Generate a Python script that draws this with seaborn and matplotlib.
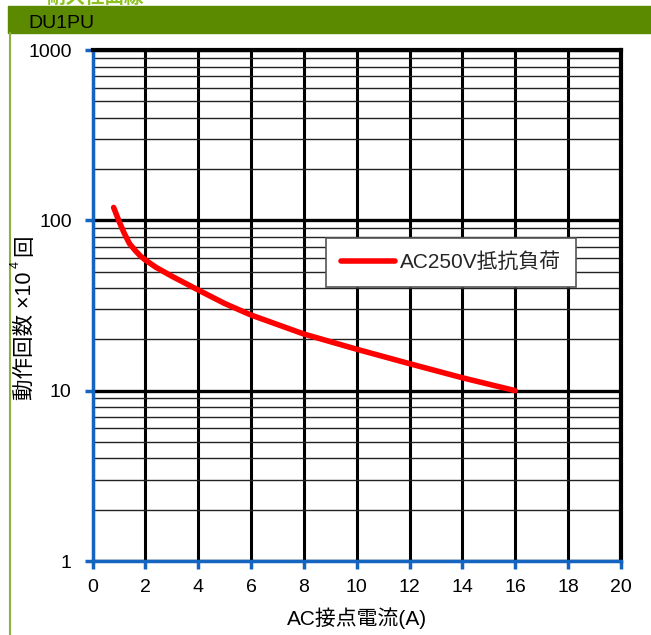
import numpy as np
import pandas as pd
import matplotlib
matplotlib.use("Agg")
import matplotlib.pyplot as plt
import seaborn as sns
from matplotlib.ticker import LogLocator, FixedLocator, NullFormatter
from matplotlib.patches import Rectangle
from matplotlib.lines import Line2D

# ---- data ----
current_a = [0.8, 1.0, 1.2, 1.4, 1.6, 1.8, 2.0, 2.4, 3.0, 4.0, 5.0, 6.0, 8.0, 10.0, 12.0, 14.0, 16.0]
operations = [119, 99, 84, 73, 67, 62, 58.5, 53, 47, 39, 32.5, 27.8, 21.5, 17.5, 14.4, 11.9, 10.0]
series_name = "AC250V抵抗負荷"
x_ticks = [0, 2, 4, 6, 8, 10, 12, 14, 16, 18, 20]
y_ticks = [1, 10, 100, 1000]
y_tick_labels = ["1", "10", "100", "1000"]
title_text = "DU1PU"
top_text = "耐久性曲線"
x_label = "AC接点電流(A)"
y_label_main = "動作回数 ×10"
y_label_exp = "4"
y_label_end = "回"

sns.set_theme(style="white")
plt.rcParams['font.family'] = ['Liberation Sans', 'Noto Sans CJK JP', 'DejaVu Sans']

W, H = 651, 635
fig = plt.figure(figsize=(W / 100, H / 100), dpi=100)

# header bar and decorations (figure coords)
fig.patches.append(Rectangle((8 / W, 1 - 33 / H), 1 - 8 / W, 27 / H,
                             transform=fig.transFigure, color="#5b8a00", zorder=0))
fig.text(28 / W, 1 - 28 / H, title_text, fontsize=14, color="black",
         va="baseline", ha="left")
fig.text(95 / W, 1 + 3 / H, top_text, fontsize=14, color="#8dc21f",
         va="center", ha="center", fontweight="bold")
fig.lines.append(Line2D([10 / W, 10 / W], [0, 1 - 33 / H], transform=fig.transFigure,
                        color="#8db040", lw=1.5))

ax = fig.add_axes([92.5 / W, 1 - 561 / H, (621 - 92.5) / W, (561 - 50) / H])

df = pd.DataFrame({"current": current_a, "ops": operations})
sns.lineplot(data=df, x="current", y="ops", ax=ax, color="#ff0000", lw=4,
             label=series_name, solid_capstyle="round", zorder=5)

ax.set_yscale("log")
ax.set_xlim(0, 20)
ax.set_ylim(1, 1000)
ax.xaxis.set_major_locator(FixedLocator(x_ticks))
ax.set_xticklabels([str(t) for t in x_ticks])
ax.yaxis.set_major_locator(FixedLocator(y_ticks))
ax.set_yticklabels(y_tick_labels)
ax.yaxis.set_minor_locator(LogLocator(base=10, subs=np.arange(2, 10)))
ax.yaxis.set_minor_formatter(NullFormatter())

# grids
ax.grid(which="major", axis="x", color="black", lw=2.2, zorder=1)
ax.grid(which="major", axis="y", color="black", lw=2.4, zorder=1)
ax.grid(which="minor", axis="y", color="#222222", lw=1.0, zorder=1)
ax.set_axisbelow(True)

# spines
for s in ["left", "bottom"]:
    ax.spines[s].set_color("#1565c0")
    ax.spines[s].set_linewidth(2.5)
for s in ["top", "right"]:
    ax.spines[s].set_color("black")
    ax.spines[s].set_linewidth(3)

ax.tick_params(axis="both", which="major", direction="out", length=6, width=2.5,
               color="#1565c0", labelsize=14, labelcolor="black")
ax.tick_params(axis="x", which="major", bottom=True, pad=7)
ax.tick_params(axis="y", which="major", left=True, pad=9)
ax.tick_params(axis="y", which="minor", left=False, length=0)

ax.set_xlabel(x_label, fontsize=15, color="black", labelpad=8)
ax.set_ylabel("")

# y label in pieces (rotated), bottom-to-top, chained by measured extents
t_main = fig.text(25 / W, 1 - 400 / H, y_label_main, fontsize=15.5, color="black",
                  rotation=90, ha="center", va="bottom")
fig.canvas.draw()
bb = t_main.get_window_extent()
top_px = bb.y1
t_exp = fig.text(16 / W, (top_px + 4) / H, y_label_exp, fontsize=9, color="black",
                 rotation=90, ha="center", va="bottom")
fig.canvas.draw()
bb2 = t_exp.get_window_extent()
fig.text(25 / W, (bb2.y1 + 5) / H, y_label_end, fontsize=15.5, color="black",
         rotation=90, ha="center", va="bottom")

leg = ax.legend(loc="upper left", bbox_to_anchor=((326 - 92.5) / (621 - 92.5), 1 - (238 - 50) / 511),
                frameon=True, fancybox=False, fontsize=15, handlelength=2.6,
                handletextpad=0.25, borderpad=0.7, borderaxespad=0, framealpha=1)
leg.get_frame().set_edgecolor("#555555")
leg.get_frame().set_linewidth(1.2)
leg.set_zorder(10)

fig.savefig("out.png", dpi=100)
